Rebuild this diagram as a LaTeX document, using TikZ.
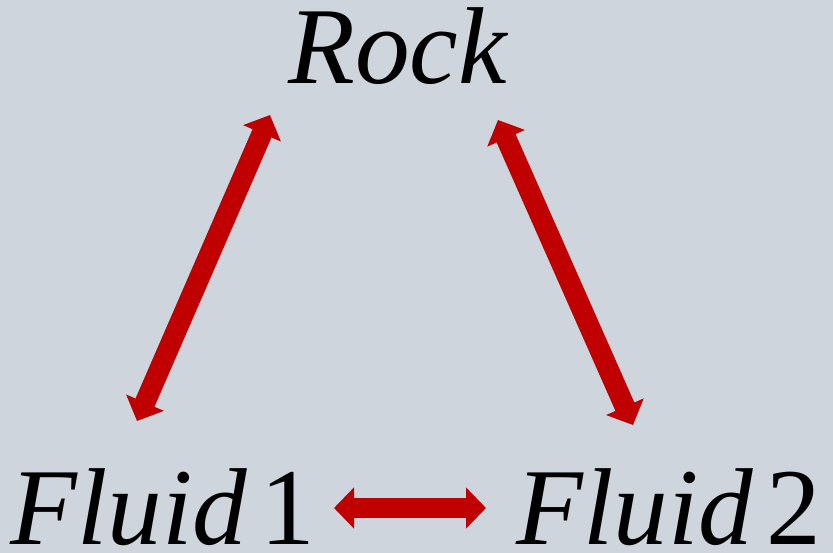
\documentclass[tikz,border=0pt]{standalone}
\usepackage{fontspec}
\setmainfont{Liberation Serif}
\usepackage{xcolor}
\usetikzlibrary{arrows.meta}
\definecolor{arrowred}{RGB}{192,0,0}
\definecolor{slidebg}{RGB}{207,213,221}

\begin{document}
\begin{tikzpicture}[x=0.75pt,y=-0.75pt,
  label/.style={inner sep=0pt,font=\fontsize{82}{96}\selectfont},
  block/.style={arrowred,line width=15.5pt,{Triangle[length=15pt,width=30pt]}-{Triangle[length=15pt,width=30pt]}}]
  \fill[slidebg] (0,0) rectangle (833,553);
  \useasboundingbox (0,0) rectangle (833,553);
  \node[label,anchor=base west] (rock) at (288,84) {\itshape Rock};
  \node[label,anchor=base west] (fluid1) at (10,544) {{\itshape Fluid}\kern0.12em 1};
  \node[label,anchor=base west] (fluid2) at (516,544) {{\itshape Fluid}\kern0.12em 2};
  \coordinate (r1) at (270,115);
  \coordinate (f1) at (137,421);
  \coordinate (r2) at (498,120);
  \coordinate (f2) at (633,425);
  \coordinate (h1) at (334,508);
  \coordinate (h2) at (486,508);
  \draw[block] (r1)--(f1);
  \draw[block] (r2)--(f2);
  \draw[block] (h1)--(h2);
\end{tikzpicture}
\end{document}
